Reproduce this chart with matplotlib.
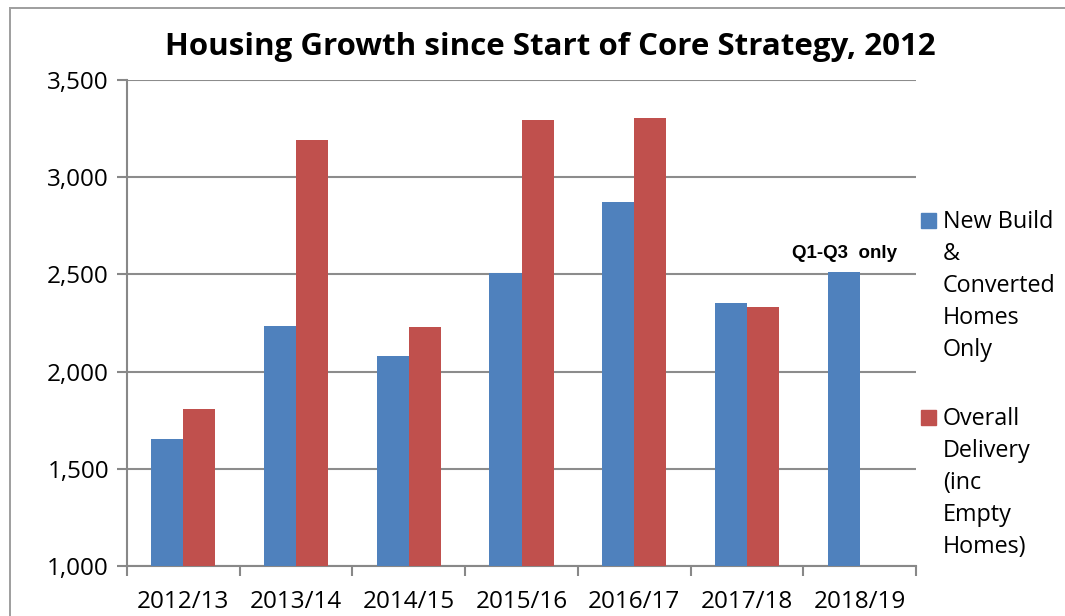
import matplotlib
matplotlib.use("Agg")
import matplotlib.pyplot as plt
import matplotlib.patches as mpatches
import numpy as np

categories = ["2012/13", "2013/14", "2014/15", "2015/16", "2016/17", "2017/18", "2018/19"]
new_build = [1653, 2235, 2080, 2507, 2872, 2353, 2512]
overall = [1808, 3191, 2229, 3294, 3305, 2332, np.nan]
series_labels = ["New Build\n&\nConverted\nHomes\nOnly", "Overall\nDelivery\n(inc\nEmpty\nHomes)"]
colors = ["#4F81BD", "#C0504D"]
title = "Housing Growth since Start of Core Strategy, 2012"
note = "Q1-Q3  only"
yticks = [1000, 1500, 2000, 2500, 3000, 3500]

W, H = 1065, 616
fig = plt.figure(figsize=(W / 100, H / 100), dpi=100)
fig.patch.set_facecolor("white")

def fx(px): return px / W
def fy(py): return 1 - py / H

# outer chart border (top and left only visible), drawn as thin filled strips
fig.add_artist(mpatches.Rectangle((fx(10), fy(9)), 1.0 - fx(10), fy(7) - fy(9),
                                  transform=fig.transFigure, facecolor="#A0A0A0",
                                  edgecolor="none", lw=0))
fig.add_artist(mpatches.Rectangle((fx(9), 0.0), fx(11) - fx(9), fy(7),
                                  transform=fig.transFigure, facecolor="#A0A0A0",
                                  edgecolor="none", lw=0))

ax = fig.add_axes([fx(127), fy(566), fx(916) - fx(127), fy(80) - fy(566)])
x = np.arange(len(categories))
bw = 0.284
ax.bar(x - bw / 2, new_build, width=bw, color=colors[0], zorder=3)
ax.bar(x + bw / 2, overall, width=bw, color=colors[1], zorder=3)

ax.set_ylim(1000, 3500)
ax.set_xlim(-0.5, len(categories) - 0.5)
ax.set_yticks(yticks)
ax.set_yticklabels([f"{v:,}" for v in yticks])
ax.set_xticks(x)
ax.set_xticklabels(categories)
ax.set_xticks(np.arange(-0.5, len(categories)), minor=True)
ax.tick_params(axis="x", which="major", length=0, pad=17, labelsize=17.5)
ax.tick_params(axis="x", which="minor", length=7, color="#888888", width=1.5)
ax.tick_params(axis="y", length=7, color="#888888", width=1.5, pad=6, labelsize=17.5)
for lab in ax.get_xticklabels() + ax.get_yticklabels():
    lab.set_fontfamily("Open Sans")
ax.grid(axis="y", color="#8C8C8C", lw=1.5, zorder=0)
for s in ["top", "right"]:
    ax.spines[s].set_visible(False)
for s in ["left", "bottom"]:
    ax.spines[s].set_color("#888888")
    ax.spines[s].set_linewidth(1.5)
ax.set_facecolor("white")

fig.text(fx(550), fy(47), title, ha="center", va="center", fontsize=22.5,
         fontweight="bold", family="Open Sans")

ax.annotate(note, xy=(len(categories) - 1, new_build[-1]), xytext=(fx(845), fy(253)),
            textcoords="figure fraction", ha="center", va="center",
            fontsize=13.5, fontweight="bold", family="Liberation Sans")

# legend drawn manually
leg_tops = [220, 417]
for lab, c, top in zip(series_labels, colors, leg_tops):
    fig.add_artist(mpatches.Rectangle((fx(921), fy(top + 8)), fx(15), fy(top - 7) - fy(top + 8),
                                      transform=fig.transFigure, color=c))
    fig.text(fx(943), fy(top - 10), lab, ha="left", va="top", fontsize=16.8,
             family="Open Sans", linespacing=1.45)

fig.savefig("out.png", dpi=100)
